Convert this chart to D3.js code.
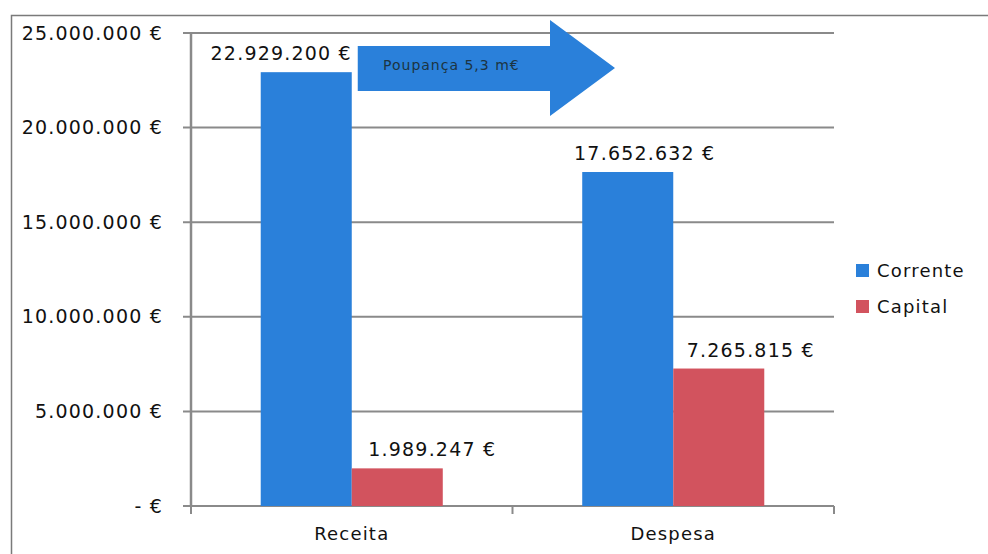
<!DOCTYPE html>
<html>
<head>
<meta charset="utf-8">
<script src="https://cdn.jsdelivr.net/npm/d3@7"></script>
<style>
body { margin: 0; background: #fff; }
text { font-family: "DejaVu Sans", "Open Sans", sans-serif; fill: #111; letter-spacing: 1.2px; }
</style>
</head>
<body>
<div id="chart"></div>
<script>
var categories = ["Receita", "Despesa"];
var seriesNames = ["Corrente", "Capital"];
var corrente = [22929200, 17652632];
var capital = [1989247, 7265815];
var yTicks = [0, 5000000, 10000000, 15000000, 20000000, 25000000];
var arrowLabel = "Poupança 5,3 m€";
// hand-placed label nudges (dx) as in the original
var labelShift = [[-25, 35], [17, 32]];

var colors = ["#2a80da", "#d2535e"];
var width = 988, height = 554;

var svg = d3.select("#chart").append("svg")
	.attr("width", width)
	.attr("height", height);

// outer frame
svg.append("path")
	.attr("d", "M11.5," + height + "V15.5H" + width)
	.style("fill", "none")
	.style("stroke", "#7a7a7a")
	.style("stroke-width", 1.5);

var plotL = 191, plotR = 834, plotT = 33, plotB = 506;

var x0 = d3.scaleBand().domain(categories).range([plotL, plotR]).paddingInner(0).paddingOuter(0);
var x1 = d3.scaleBand().domain(seriesNames).range([0, x0.bandwidth()]).paddingInner(0).paddingOuter(0.766);
var y = d3.scaleLinear().domain([0, 25000000]).range([plotB, plotT]);

var fmt = d3.formatLocale({decimal: ",", thousands: ".", grouping: [3], currency: ["", " €"]}).format(",.0f");
function euro(v) { return v === 0 ? "- €" : fmt(v) + " €"; }

// gridlines
svg.append("g").selectAll("line")
	.data(yTicks)
	.enter().append("line")
	.attr("x1", plotL - 8).attr("x2", plotR)
	.attr("y1", function(d){ return y(d); }).attr("y2", function(d){ return y(d); })
	.style("stroke", "#8a8a8a")
	.style("stroke-width", 2);

// y axis line
svg.append("line")
	.attr("x1", plotL).attr("x2", plotL).attr("y1", plotT).attr("y2", plotB)
	.style("stroke", "#8a8a8a").style("stroke-width", 2.5);

// x ticks
var xTickPos = [plotL, plotL + x0.step(), plotR];
svg.append("g").selectAll("line")
	.data(xTickPos)
	.enter().append("line")
	.attr("x1", function(d){ return d; }).attr("x2", function(d){ return d; })
	.attr("y1", plotB).attr("y2", plotB + 8)
	.style("stroke", "#8a8a8a").style("stroke-width", 2);

// y labels
svg.append("g").selectAll("text")
	.data(yTicks)
	.enter().append("text")
	.attr("x", 163)
	.attr("y", function(d){ return y(d); })
	.attr("dy", "0.35em")
	.style("text-anchor", "end")
	.style("font-size", "19px")
	.text(euro);

// category labels
svg.append("g").selectAll("text")
	.data(categories)
	.enter().append("text")
	.attr("x", function(d){ return x0(d) + x0.bandwidth() / 2; })
	.attr("y", 540)
	.style("text-anchor", "middle")
	.style("font-size", "18px")
	.text(function(d){ return d; });

// bars
var rows = categories.map(function(c, i){ return {cat: c, vals: [corrente[i], capital[i]], i: i}; });
var grp = svg.append("g").selectAll("g")
	.data(rows)
	.enter().append("g")
	.attr("transform", function(d){ return "translate(" + x0(d.cat) + ",0)"; });

function cells(d){ return d.vals.map(function(v, j){ return {v: v, s: seriesNames[j], j: j, i: d.i}; }); }

grp.selectAll("rect")
	.data(cells)
	.enter().append("rect")
	.attr("x", function(d){ return x1(d.s); })
	.attr("width", x1.bandwidth())
	.attr("y", function(d){ return y(d.v); })
	.attr("height", function(d){ return plotB - y(d.v); })
	.style("fill", function(d){ return colors[d.j]; });

grp.selectAll("text")
	.data(cells)
	.enter().append("text")
	.attr("x", function(d){ return x1(d.s) + x1.bandwidth() / 2 + labelShift[d.i][d.j]; })
	.attr("y", function(d){ return y(d.v) - 12; })
	.style("text-anchor", "middle")
	.style("font-size", "19px")
	.text(function(d){ return euro(d.v); });

// arrow "Poupança"
var ax = x0("Receita") + x1("Capital") + 6;
var arrow = svg.append("g");
arrow.append("path")
	.attr("d", "M" + ax + ",46 H550 V20 L615,68 L550,116 V91 H" + ax + " Z")
	.style("fill", colors[0]);
arrow.append("text")
	.attr("x", 383)
	.attr("y", 70)
	.style("font-size", "14px")
	.style("letter-spacing", "1px")
	.style("fill", "#1c3442")
	.text(arrowLabel);

// legend
var lg = svg.append("g").selectAll("g")
	.data(seriesNames)
	.enter().append("g")
	.attr("transform", function(d, i){ return "translate(856," + (264 + i * 36) + ")"; });
lg.append("rect").attr("width", 13).attr("height", 13)
	.style("fill", function(d, i){ return colors[i]; });
lg.append("text").attr("x", 21).attr("y", 7).attr("dy", "0.35em")
	.style("font-size", "18px")
	.text(function(d){ return d; });
</script>
</body>
</html>
